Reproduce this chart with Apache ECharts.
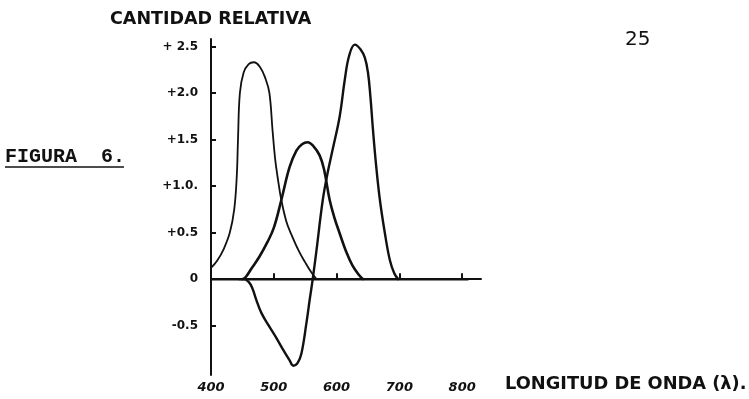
<!DOCTYPE html>
<html>
<head>
<meta charset="utf-8">
<script src="https://cdn.jsdelivr.net/npm/echarts@6/dist/echarts.min.js"></script>
<style>
  html, body { margin: 0; padding: 0; background: #fff; }
  #chart { width: 749px; height: 399px; }
</style>
</head>
<body>
<div id="chart"></div>
<script>
// ── data (wavelength nm, relative amount) ───────────────────────────────
const blueX  = [400, 410, 420, 430, 437, 441, 443, 446, 452, 460, 468, 478, 487, 493, 498, 502, 506, 512, 520, 528, 540, 550, 560, 568]
const blueY  = [0.12, 0.2, 0.32, 0.5, 0.75, 1.1, 1.5, 2.0, 2.22, 2.31, 2.33, 2.28, 2.15, 2.0, 1.6, 1.3, 1.1, 0.85, 0.62, 0.48, 0.3, 0.18, 0.07, 0]

const greenX = [450, 455, 465, 477, 490, 500, 512, 525, 536, 545, 554, 563, 573, 580, 589, 597, 605, 615, 625, 635, 642]
const greenY = [0, 0.02, 0.12, 0.24, 0.4, 0.55, 0.85, 1.2, 1.38, 1.45, 1.47, 1.43, 1.33, 1.18, 0.85, 0.65, 0.49, 0.3, 0.15, 0.05, 0]

const redX   = [445, 452, 460, 466, 472, 480, 492, 504, 515, 525, 531, 538, 544, 552, 557, 562, 568, 578, 586, 594, 605, 613, 620, 629, 638, 645, 650, 654, 658, 663, 669, 677, 685, 692, 698]
const redY   = [0, 0, -0.03, -0.1, -0.22, -0.36, -0.5, -0.63, -0.76, -0.87, -0.93, -0.9, -0.8, -0.47, -0.23, 0, 0.31, 0.85, 1.15, 1.4, 1.75, 2.14, 2.4, 2.52, 2.47, 2.38, 2.22, 1.95, 1.6, 1.22, 0.85, 0.49, 0.2, 0.06, 0]

const zeroX  = [400, 810]
const zeroY  = [0, 0]

const xTicks  = [400, 500, 600, 700, 800]
const yTicks  = [-0.5, 0, 0.5, 1.0, 1.5, 2.0, 2.5]
const yLabels = ['-0.5', '0', '+0.5', '+1.0.', '+1.5', '+2.0', '+ 2.5']

const pairs = (xs, ys) => xs.map((x, i) => [x, ys[i]])

const INK = '#111'
const chart = echarts.init(document.getElementById('chart'))

function curve(name, xs, ys, width) {
  return {
    name, type: 'line', data: pairs(xs, ys),
    symbol: 'none', smooth: 0.4,
    lineStyle: { color: INK, width, cap: 'round', join: 'round' }, z: 3,
  }
}

chart.setOption({
  backgroundColor: '#fff',
  animation: false,
  grid: { left: 211, right: 268, top: 39, bottom: 24 },
  xAxis: {
    type: 'value', min: 400, max: 830,
    axisLine: { lineStyle: { color: INK, width: 2 } },
    axisTick: { inside: true, length: 6, customValues: xTicks, lineStyle: { color: INK, width: 2 } },
    axisLabel: {
      customValues: xTicks, color: INK, margin: 6,
      fontFamily: 'DejaVu Sans', fontSize: 13, fontWeight: 'bold', fontStyle: 'italic',
    },
    splitLine: { show: false },
  },
  yAxis: {
    type: 'value', min: -1.03, max: 2.58,
    axisLine: { lineStyle: { color: INK, width: 2 } },
    axisTick: { inside: true, length: 5, customValues: yTicks, lineStyle: { color: INK, width: 2 } },
    axisLabel: {
      customValues: yTicks, color: INK, margin: 13,
      fontFamily: 'DejaVu Sans', fontSize: 12, fontWeight: 'bold',
      formatter: (v) => yLabels[yTicks.findIndex(t => Math.abs(t - v) < 1e-6)] ?? '',
    },
    splitLine: { show: false },
  },
  series: [
    { name: 'zero', type: 'line', data: pairs(zeroX, zeroY), symbol: 'none',
      lineStyle: { color: INK, width: 2.5 }, z: 2 },
    curve('b', blueX, blueY, 1.8),
    curve('g', greenX, greenY, 2.6),
    curve('r', redX, redY, 2.4),
  ],
  graphic: [
    { type: 'text', left: 110, top: 10,
      style: { text: 'CANTIDAD RELATIVA', fill: INK, font: 'bold 17.5px "DejaVu Sans"' } },
    { type: 'text', left: 625, top: 30,
      style: { text: '25', fill: INK, font: '20px "DejaVu Sans"' } },
    { type: 'text', left: 5, top: 147,
      style: { text: 'FIGURA  6.', fill: INK, font: 'bold 20px "Liberation Mono"' } },
    { type: 'line', shape: { x1: 5, y1: 167, x2: 124, y2: 167 },
      style: { stroke: INK, lineWidth: 1.5 } },
    { type: 'text', left: 505, top: 375,
      style: { text: 'LONGITUD DE ONDA (λ).', fill: INK, font: 'bold 17.8px "DejaVu Sans"' } },
  ],
})
</script>
</body>
</html>
